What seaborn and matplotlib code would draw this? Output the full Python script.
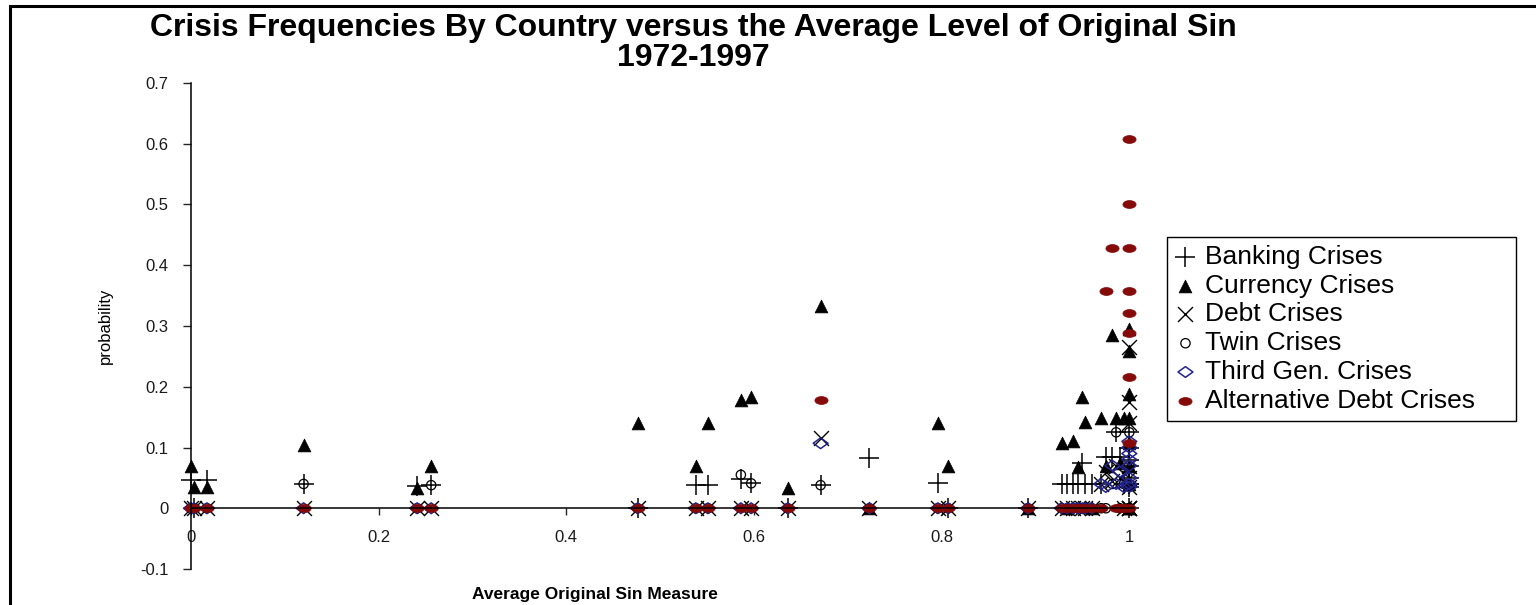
import numpy as np
import pandas as pd
import seaborn as sns
import matplotlib
matplotlib.use('Agg')
import matplotlib.pyplot as plt
import matplotlib.path as mpath
import matplotlib.patches as mpatches
from matplotlib.transforms import Affine2D

# average original sin per country, and crisis frequencies (1972-1997)
osin = [0.0, 0.003, 0.017, 0.12, 0.241, 0.256, 0.476, 0.538, 0.551, 0.586,
        0.597, 0.636, 0.671, 0.723, 0.796, 0.807, 0.892, 0.928, 0.934, 0.940,
        0.945, 0.950, 0.953, 0.960, 0.970, 0.975, 0.982, 0.986, 0.990, 0.994,
        1.0, 1.0, 1.0, 1.0, 1.0, 1.0, 1.0, 1.0, 1.0]
banking = [0.046, 0, 0.046, 0.040, 0.036, 0.038, 0, 0.038, 0.038, 0.048,
           0.041, 0, 0.038, 0.083, 0.042, 0, 0, 0.040, 0.040, 0.040,
           0.040, 0.075, 0.040, 0.040, 0.040, 0.085, 0.085, 0.125, 0.085, 0.040,
           0.125, 0.040, 0.070, 0.100, 0.040, 0.050, 0.080, 0, 0.035]
currency = [0.069, 0.035, 0.035, 0.104, 0.033, 0.069, 0.140, 0.069, 0.140, 0.178,
            0.183, 0.033, 0.333, 0, 0.140, 0.069, 0, 0.107, 0, 0.110,
            0.068, 0.183, 0.142, 0, 0.148, 0.070, 0.285, 0.148, 0.075, 0.148,
            0.295, 0.259, 0.188, 0.148, 0.107, 0.040, 0.069, 0, 0]
debt = [0, 0, 0, 0, 0, 0, 0, 0, 0, 0,
        0, 0, 0.115, 0, 0, 0, 0, 0, 0, 0,
        0, 0, 0, 0, 0.040, 0.060, 0.045, 0.070, 0.050, 0,
        0.265, 0.175, 0.140, 0.070, 0, 0.035, 0.050, 0, 0]
twin = [0, 0, 0, 0.040, 0, 0.038, 0, 0, 0, 0.055,
        0.041, 0, 0.038, 0, 0, 0, 0, 0, 0, 0,
        0, 0, 0, 0, 0, 0, 0.040, 0.125, 0, 0.040,
        0.125, 0, 0, 0.070, 0, 0, 0.040, 0, 0]
third_gen = [0, 0, 0, 0, 0, 0, 0, 0, 0, 0,
             0, 0, 0.107, 0, 0, 0, 0, 0, 0, 0,
             0, 0, 0, 0, 0.040, 0.035, 0.070, 0.040, 0.060, 0.035,
             0.110, 0.080, 0.050, 0.040, 0.100, 0.070, 0.040, 0.035, 0.090]
alt_debt = [0, 0, 0, 0, 0, 0, 0, 0, 0, 0,
            0, 0, 0.178, 0, 0, 0, 0, 0, 0, 0,
            0, 0, 0, 0, 0, 0.357, 0.428, 0, 0, 0,
            0.608, 0.501, 0.428, 0.357, 0.321, 0.288, 0.216, 0.107, 0]

series_names = ['Banking Crises', 'Currency Crises', 'Debt Crises',
                'Twin Crises', 'Third Gen. Crises', 'Alternative Debt Crises']

df = pd.DataFrame({'osin': osin, 'Banking Crises': banking,
                   'Currency Crises': currency, 'Debt Crises': debt,
                   'Twin Crises': twin, 'Third Gen. Crises': third_gen,
                   'Alternative Debt Crises': alt_debt})
long = df.melt(id_vars='osin', var_name='crisis', value_name='probability')

sns.set_style('white')
plt.rcParams['font.family'] = ['Liberation Sans', 'DejaVu Sans']
plt.rcParams['text.color'] = 'black'
plt.rcParams['axes.labelcolor'] = 'black'

ellipse = mpath.Path.unit_circle().transformed(Affine2D().scale(1, 0.6))
diamond = mpath.Path([(-1, 0), (0, -0.72), (1, 0), (0, 0.72), (-1, 0)], closed=True)

styles = {
    'Banking Crises': dict(marker='+', s=200, color='black', linewidth=1.1),
    'Currency Crises': dict(marker='^', s=85, color='black', edgecolor='black', linewidth=0.5),
    'Debt Crises': dict(marker='x', s=115, color='black', linewidth=1.0),
    'Twin Crises': dict(marker='o', s=45, facecolor='none', edgecolor='black', linewidth=0.9),
    'Third Gen. Crises': dict(marker=diamond, s=115, facecolor='none', edgecolor='#23238c', linewidth=1.1),
    'Alternative Debt Crises': dict(marker=ellipse, s=90, color='#850a0a', edgecolor='#850a0a', linewidth=0.5),
}

fig = plt.figure(figsize=(15.36, 6.05), dpi=100)
ax = fig.add_axes([191 / 1536, 36 / 605, 943 / 1536, 486 / 605])

for name in series_names:
    sub = long[long['crisis'] == name]
    sns.scatterplot(data=sub, x='osin', y='probability', ax=ax, label=name,
                    clip_on=False, legend=False, **styles[name])

ax.set_xlim(0, 1.005)
ax.set_ylim(-0.1, 0.7)
ax.set_xticks([0, 0.2, 0.4, 0.6, 0.8, 1.0])
ax.set_xticklabels(['0', '0.2', '0.4', '0.6', '0.8', '1'])
ax.set_yticks(np.arange(-0.1, 0.71, 0.1))
ax.set_yticklabels(['-0.1', '0', '0.1', '0.2', '0.3', '0.4', '0.5', '0.6', '0.7'])

for side in ['top', 'right']:
    ax.spines[side].set_visible(False)
ax.spines['bottom'].set_position(('data', 0))
for side in ['left', 'bottom']:
    ax.spines[side].set_linewidth(1.1)
    ax.spines[side].set_color('black')

ax.tick_params(axis='y', direction='out', length=6, width=1, pad=10,
               labelsize=12, labelcolor='#1a1a1a', left=True)
ax.tick_params(axis='x', direction='out', length=5, width=1, pad=11,
               labelsize=12, labelcolor='#1a1a1a', bottom=True)

ax.set_ylabel('probability', fontsize=12)
ax.yaxis.set_label_coords(-0.083, 0.5)
ax.set_xlabel('Average Original Sin Measure', fontsize=12.5, fontweight='bold')
ax.xaxis.set_label_coords(0.428, -0.037)

fig.suptitle('Crisis Frequencies By Country versus the Average Level of Original Sin\n1972-1997',
             x=693 / 1536, y=1 - 13 / 605, ha='center', va='top',
             fontsize=23, fontweight='bold', linespacing=1.0)

leg_x0, leg_x1 = 1167 / 1536, 1516 / 1536
leg = ax.legend(loc='upper left',
                bbox_to_anchor=(leg_x0, 1 - 237 / 605, leg_x1 - leg_x0, 0.0),
                bbox_transform=fig.transFigure, mode='expand', fontsize=19,
                frameon=True, fancybox=False, framealpha=1, edgecolor='black',
                borderpad=0.3, labelspacing=0.18, handlelength=0.8,
                handletextpad=0.35, borderaxespad=0, scatterpoints=1)
leg.get_frame().set_linewidth(1.0)

# outer frame of the original graphic
fig.add_artist(mpatches.Rectangle((10 / 1536, -0.2), 1.2, 1 - 6 / 605 + 0.2,
                                  transform=fig.transFigure, fill=False,
                                  edgecolor='black', linewidth=2.2))

fig.savefig('out.png', dpi=100)
